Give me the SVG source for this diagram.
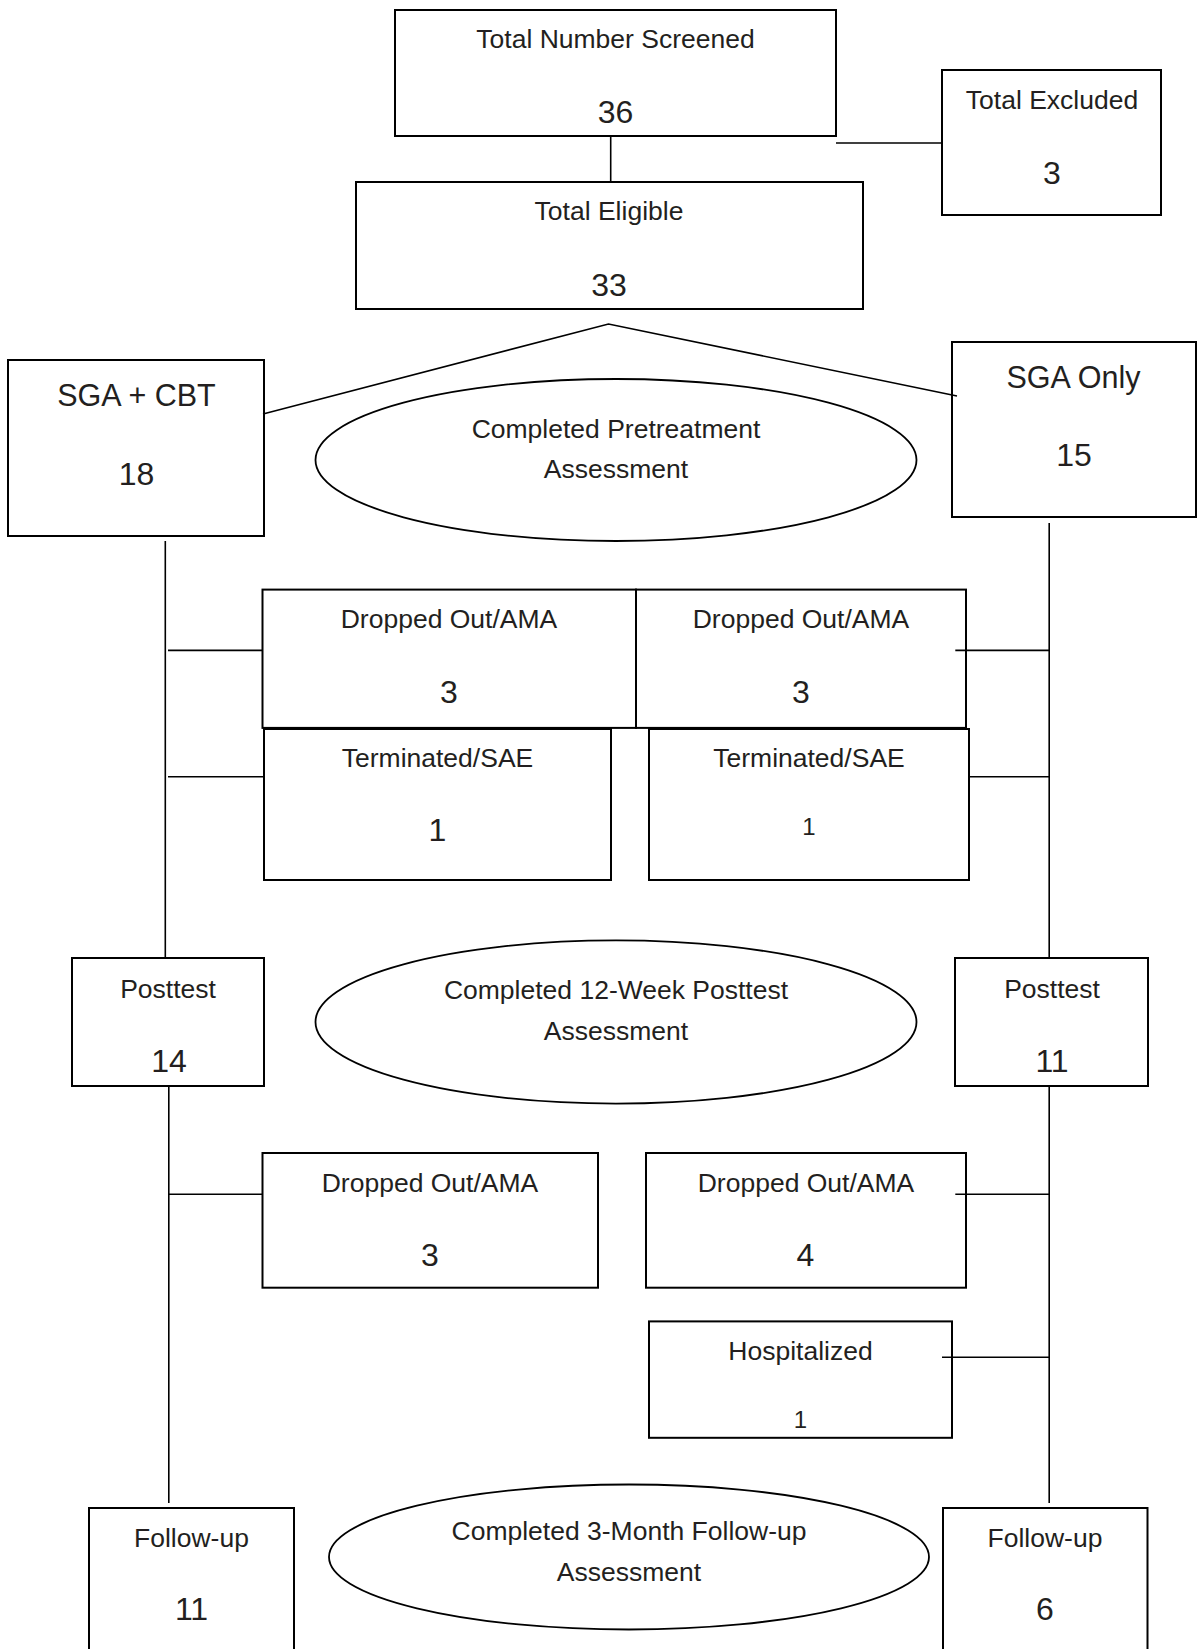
<svg xmlns="http://www.w3.org/2000/svg" width="1199" height="1649" viewBox="0 0 1199 1649">
<style>
.box{fill:#fff;stroke:#000;stroke-width:2}
.ell{fill:#fff;stroke:#000;stroke-width:1.8}
.con{stroke:#000;stroke-width:1.6;fill:none}
text{font-family:"Liberation Sans",Arial,sans-serif;fill:#231f20;text-anchor:middle}
.lb{font-size:26.5px}
.num{font-size:32px}
.big{font-size:30.5px}
.sm{font-size:24px}
</style>
<rect width="1199" height="1649" fill="#fff"/>
<g id="screened">
<rect class="box" x="395" y="10" width="441" height="126"/>
<text class="lb" x="615.5" y="48">Total Number Screened</text>
<text class="num" x="615.5" y="123">36</text>
</g>
<g id="excluded">
<rect class="box" x="942" y="70" width="219" height="145"/>
<text class="lb" x="1052" y="109">Total Excluded</text>
<text class="num" x="1052" y="184">3</text>
</g>
<g id="eligible">
<rect class="box" x="356" y="182" width="507" height="127"/>
<text class="lb" x="609" y="219.5">Total Eligible</text>
<text class="num" x="609" y="296">33</text>
</g>
<g id="sga-cbt">
<rect class="box" x="8" y="360" width="256" height="176"/>
<text class="big" x="136.5" y="406">SGA + CBT</text>
<text class="num" x="136.5" y="484.5">18</text>
</g>
<g id="sga-only">
<rect class="box" x="952" y="342" width="244" height="175"/>
<text class="big" x="1073.5" y="387.5">SGA Only</text>
<text class="num" x="1074" y="466">15</text>
</g>
<g id="pretreatment">
<ellipse class="ell" cx="616" cy="460" rx="300.5" ry="81"/>
<text class="lb" x="616" y="437.5">Completed Pretreatment</text>
<text class="lb" x="616" y="478">Assessment</text>
</g>
<g id="dropped-l1">
<rect class="box" x="262.5" y="589.6" width="373.5" height="138.3"/>
<text class="lb" x="449" y="628">Dropped Out/AMA</text>
<text class="num" x="449" y="703">3</text>
</g>
<g id="dropped-r1">
<rect class="box" x="636" y="589.6" width="330" height="138.3"/>
<text class="lb" x="801" y="628">Dropped Out/AMA</text>
<text class="num" x="801" y="703">3</text>
</g>
<g id="terminated-l">
<rect class="box" x="264" y="729" width="347" height="151"/>
<text class="lb" x="437.5" y="767">Terminated/SAE</text>
<text class="num" x="437.5" y="841">1</text>
</g>
<g id="terminated-r">
<rect class="box" x="649" y="729" width="320" height="151"/>
<text class="lb" x="809" y="767">Terminated/SAE</text>
<text class="sm" x="809" y="835">1</text>
</g>
<g id="posttest-l">
<rect class="box" x="72" y="958" width="192" height="128"/>
<text class="lb" x="168" y="997.5">Posttest</text>
<text class="num" x="169" y="1072">14</text>
</g>
<g id="posttest-r">
<rect class="box" x="955" y="958" width="193" height="128"/>
<text class="lb" x="1052" y="997.5">Posttest</text>
<text class="num" x="1052" y="1072">11</text>
</g>
<g id="posttest-assessment">
<ellipse class="ell" cx="616" cy="1022" rx="300.5" ry="81.6"/>
<text class="lb" x="616" y="999.3">Completed 12-Week Posttest</text>
<text class="lb" x="616" y="1040.4">Assessment</text>
</g>
<g id="dropped-l2">
<rect class="box" x="262.5" y="1153" width="335.5" height="134.7"/>
<text class="lb" x="430" y="1191.5">Dropped Out/AMA</text>
<text class="num" x="430" y="1266">3</text>
</g>
<g id="dropped-r2">
<rect class="box" x="646" y="1153" width="320" height="134.7"/>
<text class="lb" x="806" y="1191.5">Dropped Out/AMA</text>
<text class="num" x="805.5" y="1266">4</text>
</g>
<g id="hospitalized">
<rect class="box" x="649" y="1321.4" width="303" height="116.4"/>
<text class="lb" x="800.5" y="1359.5">Hospitalized</text>
<text class="sm" x="800.5" y="1427.7">1</text>
</g>
<g id="followup-l">
<rect class="box" x="89" y="1508" width="205" height="160"/>
<text class="lb" x="191.5" y="1547">Follow-up</text>
<text class="num" x="191.5" y="1620">11</text>
</g>
<g id="followup-r">
<rect class="box" x="943" y="1508" width="204.5" height="160"/>
<text class="lb" x="1045" y="1547">Follow-up</text>
<text class="num" x="1045" y="1620">6</text>
</g>
<g id="followup-assessment">
<ellipse class="ell" cx="629" cy="1557" rx="300" ry="72.5"/>
<text class="lb" x="629" y="1540">Completed 3-Month Follow-up</text>
<text class="lb" x="629" y="1580.5">Assessment</text>
</g>
<g id="connectors">
<line class="con" x1="610.7" y1="136" x2="610.7" y2="182"/>
<line class="con" x1="836" y1="143" x2="942" y2="143"/>
<polyline class="con" points="263,414 608.5,324 957,396"/>
<line class="con" x1="165.3" y1="541" x2="165.3" y2="958"/>
<line class="con" x1="168" y1="650.4" x2="262.5" y2="650.4"/>
<line class="con" x1="168" y1="776.8" x2="264" y2="776.8"/>
<line class="con" x1="1049.2" y1="523" x2="1049.2" y2="958"/>
<line class="con" x1="955.3" y1="650.4" x2="1049.2" y2="650.4"/>
<line class="con" x1="969.4" y1="776.8" x2="1049.2" y2="776.8"/>
<line class="con" x1="168.8" y1="1086" x2="168.8" y2="1503"/>
<line class="con" x1="168.8" y1="1194.2" x2="262.5" y2="1194.2"/>
<line class="con" x1="1049.2" y1="1086" x2="1049.2" y2="1503"/>
<line class="con" x1="955.3" y1="1194.2" x2="1049.2" y2="1194.2"/>
<line class="con" x1="942" y1="1357.2" x2="1049.2" y2="1357.2"/>
</g>
</svg>
